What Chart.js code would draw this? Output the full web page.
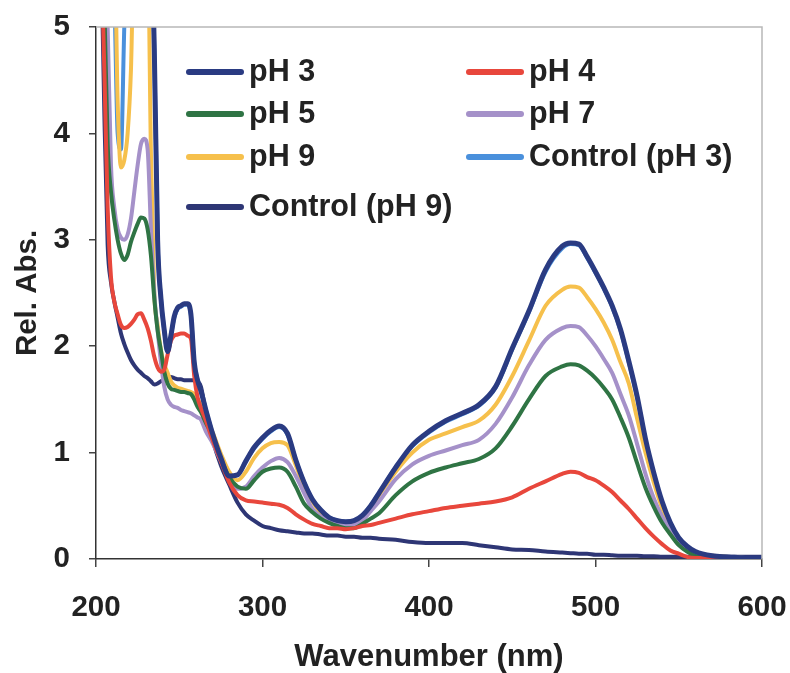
<!DOCTYPE html>
<html>
<head>
<meta charset="utf-8">
<title>Rel. Abs. vs Wavenumber</title>
<script src="https://cdn.jsdelivr.net/npm/chart.js@4.4.1/dist/chart.umd.min.js"></script>
<style>
  html, body { margin: 0; padding: 0; background: #fff; }
  #wrap { width: 790px; height: 673px; }
</style>
</head>
<body>
<div id="wrap"><canvas id="chart" width="790" height="673"></canvas></div>
<script>
// wavelength grid (nm)
const wl = [
  203, 205, 207, 209, 211, 213, 215, 217, 219, 221, 223, 225, 227, 229, 231, 233,
  235, 237, 239, 241, 243, 245, 247, 249, 251, 253, 255, 257, 259, 261, 263,
  266, 270, 275, 280, 285, 290, 295, 300, 305, 310, 315, 320, 325, 330, 335, 340, 345, 350, 355, 360, 365, 370,
  380, 390, 400, 410, 420, 430, 440, 450, 460, 470, 480,
  485, 490, 495, 500, 505, 510, 515, 520, 525, 530, 535, 540, 545, 550, 555, 560,
  570, 580, 590, 600
];

const seriesNames = ['pH 3', 'pH 4', 'pH 5', 'pH 7', 'pH 9', 'Control (pH 3)', 'Control (pH 9)'];

const ph3 = [
  5.8, 5.8, 5.8, 5.8, 5.8, 5.8, 5.8, 5.8, 5.8, 5.8, 5.8, 5.8, 5.8, 5.8, 5.8, 5.8,
  4.8, 3.0, 2.45, 2.15, 1.95, 2.1, 2.28, 2.36, 2.38, 2.40, 2.40, 2.30, 1.85, 1.68, 1.58,
  1.40, 1.18, 0.95, 0.78, 0.79, 0.92, 1.05, 1.14, 1.21, 1.25, 1.18, 0.93, 0.72, 0.56, 0.46, 0.39, 0.36, 0.35, 0.36, 0.41, 0.50, 0.62,
  0.86, 1.07, 1.20, 1.30, 1.37, 1.45, 1.62, 1.98, 2.33, 2.72, 2.94,
  2.97, 2.96, 2.84, 2.70, 2.55, 2.38, 2.16, 1.86, 1.53, 1.13, 0.81, 0.54, 0.34, 0.20, 0.12, 0.07,
  0.03, 0.02, 0.01, 0.01
];

const ph4 = [
  5.8, 4.6, 3.3, 2.65, 2.42, 2.30, 2.20, 2.17, 2.18, 2.21, 2.25, 2.30, 2.31, 2.25, 2.17, 2.05,
  1.90, 1.80, 1.76, 1.78, 1.92, 2.05, 2.10, 2.11, 2.12, 2.12, 2.10, 2.07, 1.72, 1.52, 1.42,
  1.30, 1.12, 0.92, 0.72, 0.60, 0.55, 0.54, 0.53, 0.52, 0.51, 0.48, 0.42, 0.37, 0.33, 0.31, 0.29, 0.29, 0.28, 0.29, 0.31, 0.32, 0.34,
  0.38, 0.42, 0.45, 0.48, 0.50, 0.52, 0.54, 0.58, 0.66, 0.73, 0.80,
  0.82, 0.81, 0.77, 0.74, 0.69, 0.63, 0.55, 0.47, 0.38, 0.29, 0.21, 0.14, 0.08, 0.05, 0.02, 0.01,
  0.01, 0.01, 0.01, 0.01
];

const ph5 = [
  5.8, 5.2, 3.9, 3.45, 3.19, 3.00, 2.87, 2.81, 2.86, 2.98, 3.07, 3.15, 3.21, 3.20, 3.10, 2.85,
  2.45, 2.15, 1.96, 1.76, 1.65, 1.60, 1.59, 1.58, 1.57, 1.57, 1.56, 1.55, 1.50, 1.43, 1.38,
  1.28, 1.15, 0.94, 0.77, 0.68, 0.66, 0.74, 0.82, 0.85, 0.86, 0.82, 0.68, 0.52, 0.44, 0.38, 0.34, 0.31, 0.29, 0.29, 0.33, 0.38, 0.43,
  0.60, 0.73, 0.81, 0.86, 0.90, 0.94, 1.04, 1.25, 1.50, 1.72, 1.81,
  1.83, 1.82, 1.77, 1.70, 1.61, 1.50, 1.33, 1.14, 0.90, 0.67, 0.49, 0.34, 0.23, 0.13, 0.07, 0.03,
  0.01, 0.01, 0.01, 0.01
];

const ph7 = [
  5.8, 5.8, 5.0, 3.70, 3.30, 3.10, 3.02, 3.00, 3.05, 3.20, 3.45, 3.70, 3.90, 3.95, 3.85, 3.10,
  2.50, 2.15, 1.85, 1.62, 1.50, 1.45, 1.43, 1.42, 1.40, 1.39, 1.38, 1.37, 1.35, 1.33, 1.31,
  1.20, 1.09, 0.92, 0.75, 0.66, 0.68, 0.78, 0.86, 0.92, 0.95, 0.91, 0.78, 0.62, 0.47, 0.40, 0.36, 0.33, 0.31, 0.32, 0.36, 0.45, 0.54,
  0.75, 0.89, 0.97, 1.02, 1.07, 1.12, 1.27, 1.52, 1.82, 2.06, 2.17,
  2.19, 2.18, 2.10, 2.00, 1.88, 1.75, 1.55, 1.35, 1.08, 0.80, 0.57, 0.40, 0.28, 0.16, 0.10, 0.05,
  0.02, 0.01, 0.01, 0.01
];

const ph9 = [
  5.8, 5.8, 5.8, 5.8, 5.8, 4.3, 3.68, 3.75, 4.0, 4.6, 5.8, 5.8, 5.8, 5.8, 5.8, 3.8,
  2.50, 2.20, 1.96, 1.83, 1.75, 1.67, 1.63, 1.61, 1.60, 1.59, 1.58, 1.57, 1.55, 1.50, 1.45,
  1.33, 1.19, 0.99, 0.82, 0.74, 0.82, 0.95, 1.04, 1.09, 1.10, 1.07, 0.88, 0.68, 0.54, 0.43, 0.37, 0.35, 0.34, 0.35, 0.39, 0.48, 0.60,
  0.82, 1.00, 1.12, 1.18, 1.24, 1.30, 1.45, 1.72, 2.05, 2.38, 2.53,
  2.56, 2.55, 2.46, 2.35, 2.22, 2.06, 1.85, 1.65, 1.32, 1.00, 0.72, 0.48, 0.30, 0.18, 0.09, 0.05,
  0.03, 0.02, 0.01, 0.01
];

const ctrl3 = [
  5.8, 5.8, 5.8, 5.8, 5.3, 4.0, 3.85, 5.0, 5.8, 5.8, 5.8, 5.8, 5.8, 5.8, 5.8, 5.8,
  4.8, 3.0, 2.45, 2.15, 1.95, 2.1, 2.27, 2.35, 2.37, 2.39, 2.39, 2.29, 1.85, 1.68, 1.58,
  1.40, 1.18, 0.95, 0.78, 0.79, 0.92, 1.04, 1.13, 1.20, 1.24, 1.17, 0.93, 0.72, 0.56, 0.46, 0.39, 0.36, 0.35, 0.36, 0.41, 0.50, 0.62,
  0.86, 1.06, 1.19, 1.29, 1.36, 1.44, 1.61, 1.97, 2.32, 2.70, 2.92,
  2.96, 2.95, 2.83, 2.69, 2.54, 2.37, 2.15, 1.85, 1.52, 1.12, 0.80, 0.53, 0.33, 0.19, 0.11, 0.06,
  0.03, 0.02, 0.01, 0.01
];

const ctrl9 = [
  5.8, 4.2, 2.95, 2.60, 2.42, 2.27, 2.12, 2.02, 1.94, 1.87, 1.82, 1.78, 1.75, 1.72, 1.70, 1.67,
  1.64, 1.65, 1.67, 1.68, 1.70, 1.71, 1.70, 1.69, 1.69, 1.68, 1.68, 1.68, 1.68, 1.67, 1.62,
  1.38, 1.12, 0.88, 0.70, 0.53, 0.42, 0.36, 0.31, 0.29, 0.27, 0.26, 0.25, 0.24, 0.24, 0.23, 0.22, 0.22, 0.21, 0.21, 0.20, 0.20, 0.19,
  0.18, 0.16, 0.15, 0.15, 0.15, 0.13, 0.11, 0.09, 0.085, 0.07, 0.06,
  0.055, 0.05, 0.05, 0.04, 0.04, 0.035, 0.03, 0.03, 0.03, 0.025, 0.025, 0.02, 0.02, 0.02, 0.02, 0.02,
  0.02, 0.02, 0.02, 0.02
];

const yTicks = [0, 1, 2, 3, 4, 5];
const xTicks = [200, 300, 400, 500, 600];

const colors = ['#2a3b82', '#e8473c', '#2f7444', '#a591c9', '#f6c04c', '#4a90dc', '#2e3675'];
const widths = [5, 4, 4, 4, 4, 4, 4];
const allValues = [ph3, ph4, ph5, ph7, ph9, ctrl3, ctrl9];

// where each legend entry sits (line start x, centre y)
const legendSpots = [[189, 72], [469, 72], [189, 114], [469, 114], [189, 157], [469, 157], [189, 207]];

const fontFamily = '"Liberation Sans", Arial, Helvetica, sans-serif';
const textColor = '#222';

const frameAndLegend = {
  id: 'frameAndLegend',
  afterDraw(chart) {
    const { ctx, chartArea: a } = chart;
    ctx.save();
    // light frame on top and right
    ctx.strokeStyle = '#b8b8b8';
    ctx.lineWidth = 1.5;
    ctx.beginPath();
    ctx.moveTo(a.left, a.top);
    ctx.lineTo(a.right, a.top);
    ctx.lineTo(a.right, a.bottom);
    ctx.stroke();

    // legend inside the plot
    ctx.font = 'bold 30.5px ' + fontFamily;
    ctx.textBaseline = 'middle';
    ctx.textAlign = 'left';
    chart.data.datasets.forEach((ds, i) => {
      const [lx, ly] = legendSpots[i];
      ctx.strokeStyle = ds.borderColor;
      ctx.lineWidth = 6;
      ctx.lineCap = 'round';
      ctx.beginPath();
      ctx.moveTo(lx, ly);
      ctx.lineTo(lx + 52, ly);
      ctx.stroke();
      ctx.fillStyle = textColor;
      ctx.fillText(ds.label, lx + 60, ly + 1);
    });
    ctx.restore();
  }
};

const datasets = seriesNames.map((name, i) => ({
  label: name,
  data: wl.map((x, j) => ({ x: x, y: allValues[i][j] })),
  borderColor: colors[i],
  backgroundColor: colors[i],
  borderWidth: widths[i],
  pointRadius: 0,
  cubicInterpolationMode: 'monotone',
  fill: false
}));

new Chart(document.getElementById('chart').getContext('2d'), {
  type: 'line',
  data: { datasets: datasets },
  options: {
    responsive: false,
    animation: false,
    devicePixelRatio: 1,
    layout: { padding: { top: 27, right: 28, left: 0, bottom: 0 } },
    plugins: {
      legend: { display: false },
      tooltip: { enabled: false }
    },
    scales: {
      x: {
        type: 'linear',
        min: 200,
        max: 600,
        afterFit: (s) => { s.height = 114; s.paddingLeft = 0; s.paddingRight = 0; },
        afterBuildTicks: (s) => { s.ticks = xTicks.map(v => ({ value: v })); },
        grid: { display: true, drawOnChartArea: false, drawTicks: true, tickLength: 8, color: '#444', lineWidth: 1.5 },
        border: { display: true, color: '#333', width: 1.5 },
        ticks: {
          padding: 23,
          color: textColor,
          font: { family: fontFamily, size: 29.5, weight: 'bold' }
        },
        title: {
          display: true,
          text: 'Wavenumber (nm)',
          color: textColor,
          padding: { top: 0, bottom: 0 },
          font: { family: fontFamily, size: 31, weight: 'bold', lineHeight: 1.0 }
        }
      },
      y: {
        min: 0,
        max: 5,
        afterFit: (s) => { s.width = 96; s.paddingTop = 0; s.paddingBottom = 0; },
        afterBuildTicks: (s) => { s.ticks = yTicks.map(v => ({ value: v })); },
        grid: { display: true, drawOnChartArea: false, drawTicks: true, tickLength: 7, color: '#444', lineWidth: 1.5 },
        border: { display: true, color: '#333', width: 1.5 },
        ticks: {
          padding: 19,
          color: textColor,
          font: { family: fontFamily, size: 29.5, weight: 'bold' }
        },
        title: {
          display: true,
          text: 'Rel. Abs.',
          color: textColor,
          padding: { top: 10, bottom: 0 },
          font: { family: fontFamily, size: 29.5, weight: 'bold' }
        }
      }
    }
  },
  plugins: [frameAndLegend]
});
</script>
</body>
</html>
